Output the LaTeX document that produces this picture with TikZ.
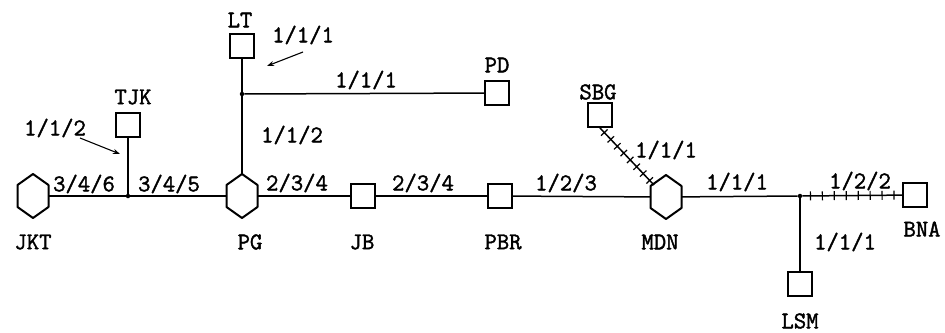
\documentclass[tikz,border=0pt]{standalone}
\usepackage{fontspec}
\setmonofont{Latin Modern Mono}[FakeBold=1.6]
\usetikzlibrary{positioning,arrows.meta,calc,decorations.markings}

\begin{document}
\begin{tikzpicture}[
  x=1pt, y=-1pt,
  font=\ttfamily\fontsize{24}{24}\selectfont,
  >={Stealth[length=7pt,width=5pt]},
  station/.style={draw, line width=2pt, minimum size=24pt, inner sep=0pt},
  hub/.style={minimum width=31pt, minimum height=44pt, inner sep=0pt, outer sep=0pt,
    append after command={\pgfextra{\draw[line width=2pt, line join=round]
      (\tikzlastnode.north)
      -- ($(\tikzlastnode.east)!0.5!(\tikzlastnode.north east)$)
      -- ($(\tikzlastnode.east)!0.5!(\tikzlastnode.south east)$)
      -- (\tikzlastnode.south)
      -- ($(\tikzlastnode.west)!0.5!(\tikzlastnode.south west)$)
      -- ($(\tikzlastnode.west)!0.5!(\tikzlastnode.north west)$)
      -- cycle;}}},
  joint/.style={circle, fill, inner sep=0pt, minimum size=4.5pt},
  link/.style={line width=1.5pt},
  hatched/.style={link, postaction={decorate}, decoration={markings,
    mark=between positions 0.08 and 0.97 step 0.12 with {\draw[line width=1.2pt] (0,-4.5pt) -- (0,4.5pt);}}},
  lbl/.style={inner sep=1pt},
  arr/.style={->, line width=1.1pt},
]
\useasboundingbox (0,0) rectangle (945,332);

% Hubs
\node[hub] (jkt) at (33,196) {};
\node[hub] (pg) at (242,196) {};
\node[hub] (mdn) at (666,197) {};

% Stations
\node[station] (tjk) at (128,125) {};
\node[station] (lt) at (242,46) {};
\node[station] (pd) at (497,93) {};
\node[station] (jb) at (363,196) {};
\node[station] (pbr) at (500,196) {};
\node[station] (sbg) at (600,115) {};
\node[station] (bna) at (915,195) {};
\node[station] (lsm) at (800,284) {};

% Junctions
\node[joint] (jtjk) at (128,196) {};
\node[joint] (jlt) at (242,94) {};
\node[joint] (jlsm) at (800,196) {};

% Names
\node at (33,242) {JKT};
\node at (250,242) {PG};
\node at (362,242) {JB};
\node at (503,242) {PBR};
\node at (660,242) {MDN};
\node at (922,229) {BNA};
\node at (800,321) {LSM};
\node at (133,97) {TJK};
\node at (240,20) {LT};
\node at (497,65) {PD};
\node at (598,92) {SBG};

% Links
\draw[link] (jkt) -- (jtjk) -- (pg);
\draw[link] (tjk) -- (jtjk);
\draw[link] (lt) -- (jlt) -- (pg);
\draw[link] (jlt) -- (pd);
\draw[link] (pg) -- (jb);
\draw[link] (jb) -- (pbr);
\draw[link] (pbr) -- (mdn);
\draw[link] (mdn) -- (jlsm);
\draw[link] (jlsm) -- (lsm);
\draw[hatched] (sbg.south) -- ([xshift=-12pt,yshift=12pt]mdn.center);
\draw[hatched] (jlsm) -- (bna);

% Link labels
\node[lbl] at (84,184) {3/4/6};
\node[lbl] at (169,184) {3/4/5};
\node[lbl] at (297,183) {2/3/4};
\node[lbl] at (423,183) {2/3/4};
\node[lbl] at (566,183) {1/2/3};
\node[lbl] at (737,182) {1/1/1};
\node[lbl] at (860,181) {1/2/2};
\node[lbl] at (845,242) {1/1/1};
\node[lbl] at (666,150) {1/1/1};
\node[lbl] at (292,135) {1/1/2};
\node[lbl] at (366,80) {1/1/1};
\node[lbl] (lblt) at (303,35) {1/1/1};
\node[lbl] (lbtjk) at (55,128) {1/1/2};

% Pointers
\draw[arr] (80,138) -- (120,154);
\draw[arr] (303,52) -- (267,66);

\end{tikzpicture}
\end{document}
